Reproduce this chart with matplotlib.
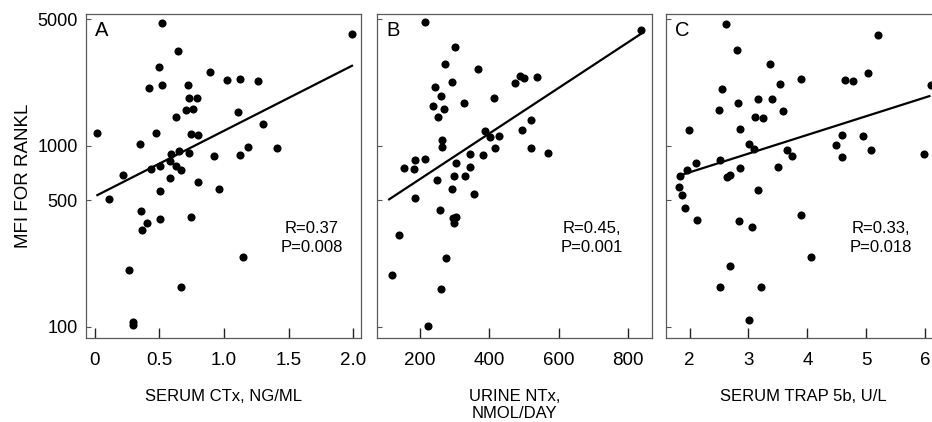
import numpy as np
import matplotlib
matplotlib.use('Agg')
import matplotlib.pyplot as plt

plt.rcParams['font.family'] = ['Liberation Sans', 'DejaVu Sans']

# panel A: serum CTx vs MFI
ctx = [0.523, 1.99, 0.642, 0.499, 0.895, 1.025, 1.123, 1.263, 0.424, 0.523, 0.719, 0.732,
       0.792, 0.706, 0.761, 0.629, 1.107, 1.304, 0.021, 0.473, 0.748, 0.802, 0.352, 1.188,
       1.413, 0.655, 0.592, 0.727, 0.924, 1.123, 0.580, 0.507, 0.629, 0.432, 0.670, 0.223,
       0.582, 0.802, 0.960, 0.505, 0.109, 0.362, 0.505, 0.745, 0.401, 0.367, 1.144, 0.269,
       0.665, 0.300, 0.300]
mfi_a = [4730, 4146, 3340, 2716, 2558, 2301, 2333, 2282, 2071, 2161, 2161, 1832,
         1832, 1573, 1586, 1433, 1534, 1322, 1175, 1175, 1165, 1150, 1021, 979,
         967, 938, 900, 907, 877, 889, 827, 776, 773, 747, 734, 689,
         661, 633, 574, 562, 508, 438, 394, 403, 376, 341, 244, 205,
         166, 107, 102]
fit_a_x = [0.021, 1.99]
fit_a_y = [534, 2761]

# panel B: urine NTx vs MFI
ntx = [213, 836, 300, 273, 367, 292, 473, 488, 500, 536, 243, 260, 412, 327, 238, 268,
       253, 520, 388, 493, 401, 429, 263, 264, 415, 521, 570, 345, 381, 215, 187, 155,
       182, 304, 344, 299, 330, 249, 293, 355, 187, 257, 294, 304, 298, 138, 274, 118,
       261, 222]
mfi_b = [4830, 4345, 3486, 2810, 2660, 2236, 2216, 2411, 2361, 2402, 2116, 1879, 1840, 1719, 1648, 1593,
         1433, 1386, 1205, 1220, 1121, 1126, 1079, 984, 967, 967, 907, 896, 889, 848, 830, 757,
         747, 806, 763, 683, 683, 647, 579, 543, 514, 442, 397, 403, 375, 323, 241, 194,
         161, 101]
fit_b_x = [111, 836]
fit_b_y = [506, 4130]

# panel C: serum TRAP 5b vs MFI
trap = [2.627, 5.203, 2.802, 3.367, 5.023, 3.898, 4.644, 4.774, 3.531, 6.096, 2.559, 3.169,
        3.395, 2.825, 2.492, 3.588, 3.107, 3.243, 1.989, 2.864, 4.593, 4.944, 4.486, 3.011,
        3.090, 3.655, 5.073, 3.740, 4.593, 5.977, 2.514, 2.102, 1.955, 2.864, 3.503, 1.831,
        2.695, 2.633, 1.819, 1.876, 3.169, 1.915, 3.898, 2.130, 2.842, 3.056, 4.068, 2.695,
        2.514, 3.209, 3.011]
mfi_c = [4695, 4067, 3356, 2824, 2520, 2346, 2307, 2269, 2185, 2158, 2060, 1816,
         1816, 1719, 1574, 1555, 1448, 1417, 1218, 1244, 1153, 1129, 1013, 1021,
         955, 951, 951, 882, 871, 900, 835, 800, 733, 758, 767, 679,
         688, 674, 591, 533, 572, 456, 414, 387, 382, 356, 242, 218,
         166, 167, 109]
fit_c_x = [1.831, 6.073]
fit_c_y = [685, 1878]

yticks = [100, 500, 1000, 5000]

fig = plt.figure(figsize=(9.32, 4.22), dpi=100)
lefts = [86/932, 377/932, 666/932]
w = 275/932
bot = 1 - 338.3/422
h = (338.3 - 14)/422

panels = [
    (ctx, mfi_a, fit_a_x, fit_a_y, 'A', 'R=0.37\nP=0.008', 'SERUM CTx, NG/ML',
     (-0.067, 2.06), [0, 0.5, 1.0, 1.5, 2.0], ['0', '0.5', '1.0', '1.5', '2.0'], 0.82),
    (ntx, mfi_b, fit_b_x, fit_b_y, 'B', 'R=0.45,\nP=0.001', 'URINE NTx,\nNMOL/DAY',
     (76, 869), [200, 400, 600, 800], ['200', '400', '600', '800'], 0.78),
    (trap, mfi_c, fit_c_x, fit_c_y, 'C', 'R=0.33,\nP=0.018', 'SERUM TRAP 5b, U/L',
     (1.6, 6.27), [2, 3, 4, 5, 6], ['2', '3', '4', '5', '6'], 0.78),
]

for i, (x, y, fx, fy, letter, stat, xlab, xlim, xt, xtl, sx) in enumerate(panels):
    ax = fig.add_axes([lefts[i], bot, w, h])
    ax.scatter(x, y, s=34, color='black', zorder=3, linewidths=0)
    ax.plot(fx, fy, color='black', lw=1.6, zorder=2)
    ax.set_yscale('log')
    ax.set_ylim(86.6, 5330)
    ax.set_xlim(*xlim)
    ax.set_yticks(yticks)
    ax.minorticks_off()
    if i == 0:
        ax.set_yticklabels([str(t) for t in yticks], fontsize=13)
        ax.set_ylabel('MFI FOR RANKL', fontsize=13.5, labelpad=4)
    else:
        ax.set_yticklabels([])
    ax.set_xticks(xt)
    ax.set_xticklabels(xtl, fontsize=13.5)
    ax.tick_params(axis='x', direction='in', length=7, width=1, pad=10, color='#222222')
    ax.tick_params(axis='y', direction='in', length=3.5, width=0.8, pad=6, color='#555555')
    for sp in ax.spines.values():
        sp.set_color('#5a5a5a')
        sp.set_linewidth(0.9)
    ax.set_xlabel(xlab, fontsize=12, labelpad=14, linespacing=1.2)
    ax.text(0.033, 0.978, letter, transform=ax.transAxes, fontsize=14.5, va='top', ha='left')
    ax.text(sx, 0.31, stat, transform=ax.transAxes, fontsize=12, ha='center', va='center',
            linespacing=1.35)

fig.savefig('out.png', dpi=100)
